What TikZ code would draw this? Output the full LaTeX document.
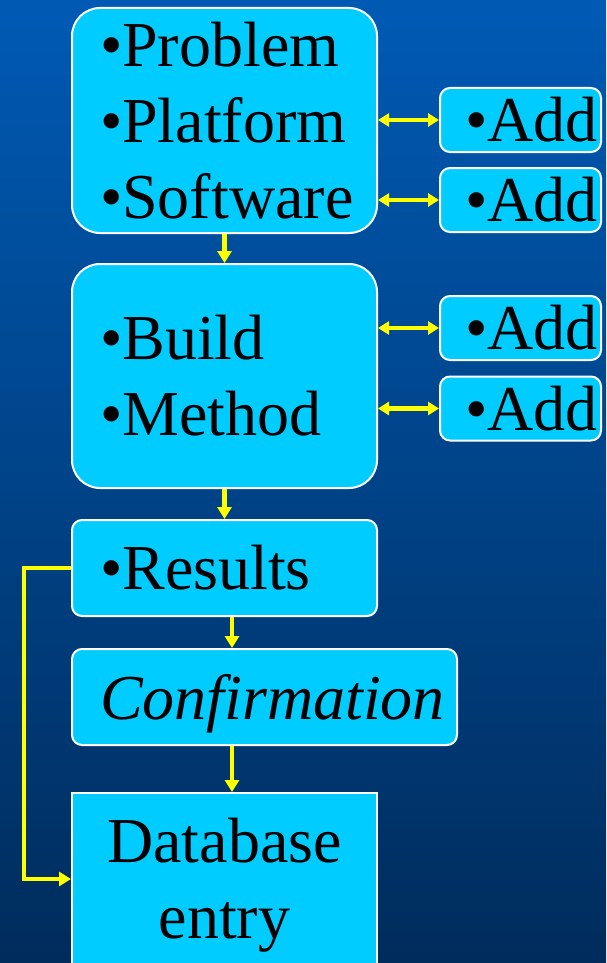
\documentclass[tikz,border=0pt]{standalone}
\usepackage{fontspec}
\setmainfont{Liberation Serif}
\usetikzlibrary{arrows.meta}
\definecolor{bgtop}{RGB}{0,90,180}
\definecolor{bgbot}{RGB}{0,44,92}
\definecolor{boxcyan}{RGB}{0,204,255}
\definecolor{linkyellow}{RGB}{255,255,0}
\begin{document}
\begin{tikzpicture}[x=1pt,y=-1pt,
  card/.style={draw=white, line width=2pt, fill=boxcyan, inner sep=0pt,
    text=black, font=\fontsize{64}{76}\selectfont},
  bigcard/.style={card, rounded corners=28pt, minimum width=305pt, text width=249pt, align=left},
  smallcard/.style={card, rounded corners=10pt},
  addcard/.style={smallcard, minimum width=161pt, minimum height=64pt, text width=111pt, align=left},
  link/.style={draw=linkyellow, line width=4.5pt, -{Triangle[length=12pt,width=14pt]}},
  twolink/.style={draw=linkyellow, line width=4.5pt, {Triangle[length=11pt,width=13pt]}-{Triangle[length=11pt,width=13pt]}}
]
% backdrop
\path[use as bounding box, shade, top color=bgtop, bottom color=bgbot] (0,0) rectangle (606,963);
\clip (0,0) rectangle (606,963);

% main column
\node[bigcard, minimum height=225pt] (spec) at (224.5,120.5)
  {•Problem\\•Platform\\•Software};
\node[bigcard, minimum height=224pt] (build) at (224.5,376)
  {•Build\\•Method};
\node[smallcard, minimum width=305pt, minimum height=96pt, text width=249pt, align=left] (res) at (224.5,568)
  {•Results};
\node[smallcard, minimum width=385pt, minimum height=96pt, text depth=0pt, text width=329pt, align=left,
  font=\fontsize{64}{76}\selectfont\itshape] (conf) at (264.5,697)
  {Confirmation};
\node[card, minimum width=305pt, minimum height=185pt, anchor=north, text width=305pt, align=center] (db) at (224.5,792)
  {Database\\entry};

% side boxes
\node[addcard] (a1) at (520.5,120) {•Add};
\node[addcard] (a2) at (520.5,200) {•Add};
\node[addcard] (a3) at (520.5,328) {•Add};
\node[addcard] (a4) at (520.5,408.5) {•Add};

% connectors
\draw[twolink] (spec.east |- a1.west) -- (a1.west);
\draw[twolink] (spec.east |- a2.west) -- (a2.west);
\draw[twolink] (build.east |- a3.west) -- (a3.west);
\draw[twolink] (build.east |- a4.west) -- (a4.west);
\draw[link] (spec.south) -- (build.north);
\draw[link] (build.south) -- (res.north);
\coordinate (drop) at ([xshift=7.5pt]res.south);
\draw[link] (drop) -- (drop |- conf.north);
\draw[link] (drop |- conf.south) -- (drop |- db.north);
\coordinate (bend) at (24,879);
\draw[link] (res.west) -| (bend) -- (db.west |- bend);
\end{tikzpicture}
\end{document}
